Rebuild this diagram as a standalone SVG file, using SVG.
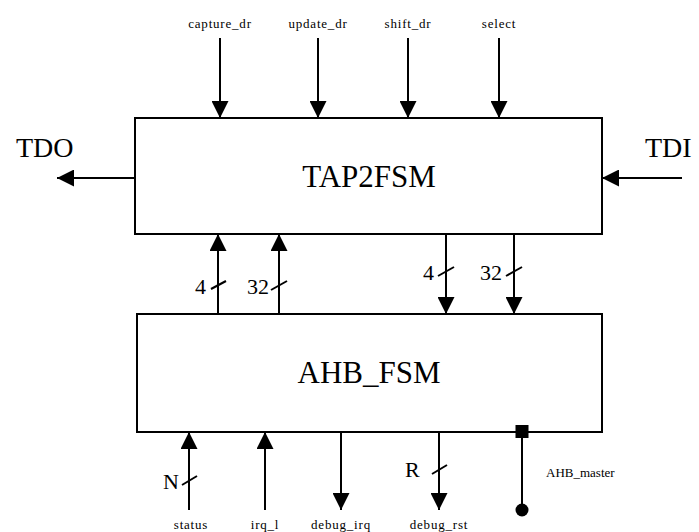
<svg xmlns="http://www.w3.org/2000/svg" width="699" height="532" viewBox="0 0 699 532">
<style>
.box{fill:#fff;stroke:#000;stroke-width:2}
.ln{stroke:#000;stroke-width:2;fill:none}
.arr{stroke:#000;stroke-width:2;fill:none;marker-end:url(#ah)}
text{font-family:'Liberation Serif','Times New Roman',serif;fill:#000}
.big{font-size:31px;text-anchor:middle}
.io{font-size:28px}
.sig{font-size:13px;text-anchor:middle;letter-spacing:0.8px}
.bus{font-size:22px}
</style>
<defs>
<marker id="ah" markerUnits="userSpaceOnUse" markerWidth="18" markerHeight="17" refX="17" refY="8.5" orient="auto">
<path d="M0,0 L17,8.5 L0,17 Z" fill="#000"/>
</marker>
</defs>
<rect width="699" height="532" fill="#fff"/>
<g id="TAP2FSM">
<rect class="box" x="135" y="118" width="467" height="116"/>
<text class="big" x="369" y="187">TAP2FSM</text>
</g>
<g id="AHB_FSM">
<rect class="box" x="137" y="314" width="465" height="118"/>
<text class="big" x="369" y="383">AHB_FSM</text>
</g>
<g id="connectors">
<line class="arr" x1="220" y1="38" x2="220" y2="118"/>
<line class="arr" x1="318" y1="38" x2="318" y2="118"/>
<line class="arr" x1="408" y1="38" x2="408" y2="118"/>
<line class="arr" x1="499" y1="38" x2="499" y2="118"/>
<text class="sig" x="220" y="28">capture_dr</text>
<text class="sig" x="318" y="28">update_dr</text>
<text class="sig" x="408" y="28">shift_dr</text>
<text class="sig" x="499" y="28">select</text>
<line class="arr" x1="135" y1="178" x2="57" y2="178"/>
<text class="io" x="16" y="157">TDO</text>
<line class="arr" x1="682" y1="178" x2="602" y2="178"/>
<text class="io" x="645" y="157">TDI</text>
<line class="arr" x1="218" y1="314" x2="218" y2="234"/>
<line class="arr" x1="279" y1="314" x2="279" y2="234"/>
<line class="arr" x1="446" y1="234" x2="446" y2="314"/>
<line class="arr" x1="514" y1="234" x2="514" y2="314"/>
<line class="ln" x1="211" y1="289" x2="226" y2="281"/>
<text class="bus" x="195" y="294">4</text>
<line class="ln" x1="271" y1="290" x2="287" y2="281"/>
<text class="bus" x="247" y="294">32</text>
<line class="ln" x1="438" y1="276" x2="454" y2="267"/>
<text class="bus" x="423" y="280">4</text>
<line class="ln" x1="506" y1="276" x2="522" y2="267"/>
<text class="bus" x="480" y="280">32</text>
<line class="arr" x1="189" y1="510" x2="189" y2="432"/>
<line class="arr" x1="265" y1="510" x2="265" y2="432"/>
<line class="arr" x1="341" y1="432" x2="341" y2="510"/>
<line class="arr" x1="439" y1="432" x2="439" y2="510"/>
<line class="ln" x1="182" y1="485" x2="197" y2="476"/>
<text class="bus" x="163" y="489">N</text>
<line class="ln" x1="432" y1="474" x2="447" y2="465"/>
<text class="bus" x="405" y="477">R</text>
<line class="ln" x1="522" y1="432" x2="522" y2="510"/>
<rect x="515.5" y="425" width="13" height="13" fill="#000"/>
<circle cx="522" cy="510" r="6.5" fill="#000"/>
<text style="font-size:13px" x="546" y="477">AHB_master</text>
<text class="sig" x="191" y="529">status</text>
<text class="sig" x="265" y="529">irq_l</text>
<text class="sig" x="341" y="529">debug_irq</text>
<text class="sig" x="439" y="529">debug_rst</text>
</g>
</svg>
